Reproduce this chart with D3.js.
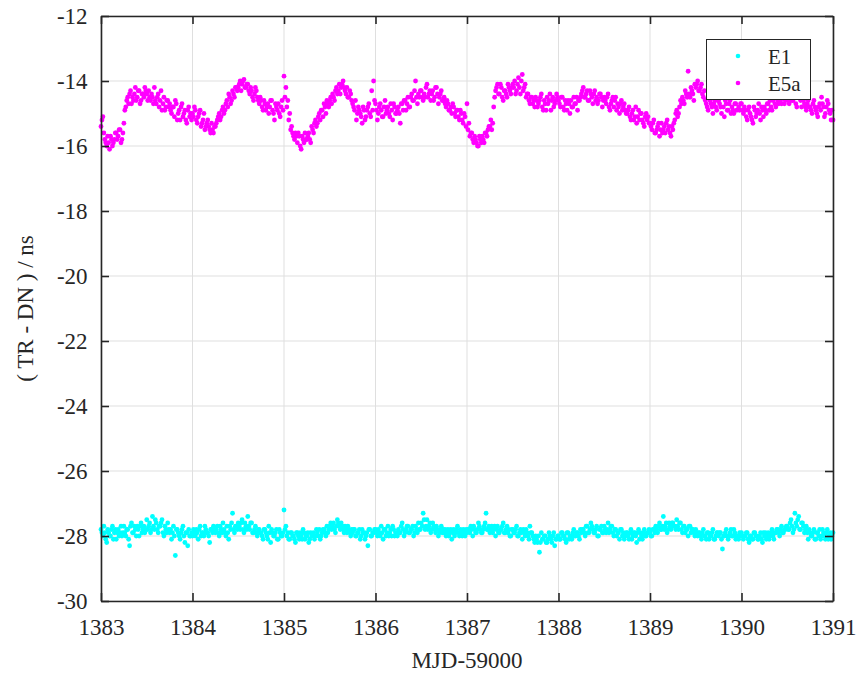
<!DOCTYPE html>
<html>
<head>
<meta charset="utf-8">
<script src="https://cdnjs.cloudflare.com/ajax/libs/d3/7.8.5/d3.min.js"></script>
</head>
<body style="margin:0; background:#fff">
<svg id="chart" width="859" height="674" font-family="Liberation Serif"></svg>
<script>
// MJD-59000, two interleaved sample sets every half hour (offset by 15 min)
const startDay = 1383;
const samplesPerDay = 48;

const xTicks = [1383, 1384, 1385, 1386, 1387, 1388, 1389, 1390, 1391];
const yTicks = [-30, -28, -26, -24, -22, -20, -18, -16, -14, -12];

const e5a = [
  -15.4, -15.1, -15.8, -16.0, -15.9, -15.7, -16.0, -15.8, -15.6, -15.7, -15.5, -15.8,
  -15.3, -14.8, -14.5, -14.4, -14.7, -14.6, -14.2, -14.5, -14.3, -14.6, -14.4, -14.2,
  -14.4, -14.3, -14.6, -14.5, -14.2, -14.7, -14.4, -14.6, -14.9, -14.5, -14.8, -14.6,
  -14.7, -15.0, -14.8, -14.6, -15.2, -14.9, -14.8, -15.1, -14.9, -15.3, -14.8, -15.0,
  -15.0, -14.8, -15.2, -15.1, -14.9, -15.3, -15.0, -15.4, -15.2, -15.5, -15.3, -15.6,
  -15.4, -15.2, -15.0, -15.1, -14.8, -14.9, -14.6, -14.4, -14.7, -14.3, -14.5, -14.2,
  -14.2, -14.0, -14.1, -13.95, -14.2, -14.1, -14.4, -14.3, -14.6, -14.2, -14.5, -14.7,
  -14.6, -14.9, -14.7, -14.8, -15.0, -14.6, -14.9, -15.2, -14.8, -14.7, -15.1, -14.6,
  -13.85, -14.2, -14.6, -15.0, -15.4, -15.7, -15.6, -15.9, -15.7, -16.1, -15.8, -15.6,
  -15.8, -15.6, -15.9, -15.5, -15.3, -15.4, -15.1, -15.2, -14.9, -14.7, -15.0, -14.7,
  -14.6, -14.7, -14.5, -14.3, -14.4, -14.1, -14.2, -14.0, -14.3, -14.2, -14.5, -14.4,
  -14.7, -14.9, -15.2, -14.8, -15.0, -15.3, -14.9, -15.1, -14.8, -15.0, -14.3, -14.0,
  -14.7, -15.2, -14.8, -14.9, -15.1, -14.6, -14.9, -15.0, -14.7, -15.2, -14.8, -15.0,
  -14.8, -15.3, -14.7, -14.6, -14.9, -14.5, -14.8, -14.4, -14.6, -14.0, -14.7, -14.5,
  -14.3, -14.6, -14.5, -14.1, -14.4, -14.6, -14.3, -14.5, -14.2, -14.7, -14.4, -14.6,
  -14.5, -14.8, -14.7, -14.9, -15.0, -14.8, -15.1, -14.9, -15.2, -15.0, -15.3, -15.1,
  -14.7, -15.3, -15.6, -15.8, -15.7, -15.9, -16.0, -15.8, -15.7, -15.9, -15.6, -15.5,
  -15.4, -15.5, -14.8, -14.3, -14.1, -14.4, -14.2, -14.6, -14.3, -14.5, -14.2, -14.4,
  -14.1, -14.0, -14.3, -13.9, -14.4, -13.8, -14.2, -14.5, -14.4, -14.7, -14.5, -14.6,
  -14.5, -14.8, -14.6, -14.4, -14.9, -14.7, -14.5, -14.6, -14.9, -14.5, -14.7, -14.4,
  -14.6, -14.8, -14.5, -14.9, -14.7, -14.6, -15.0, -14.8, -14.5, -14.7, -14.9, -14.6,
  -14.4, -14.2, -14.5, -14.3, -14.6, -14.4, -14.7, -14.3, -14.5, -14.6, -14.4, -14.8,
  -14.5, -14.7, -14.4, -14.9, -14.6, -14.8, -14.5, -14.7, -15.0, -14.6, -14.8, -14.9,
  -15.0, -14.8, -15.2, -14.9, -15.1, -15.3, -14.9, -15.0, -15.2, -15.4, -15.0, -15.1,
  -15.3, -15.5, -15.2, -15.6, -15.4, -15.7, -15.3, -15.5, -15.6, -15.2, -15.4, -15.7,
  -15.5, -15.2, -14.9, -15.0, -14.6, -14.5, -14.7, -14.4, -13.7, -14.5, -14.3, -14.6,
  -14.2, -14.0, -14.3, -14.1, -14.5, -14.6, -14.8, -14.5, -14.7, -15.0, -14.6, -14.9,
  -14.6, -14.8, -14.5, -15.1, -14.7, -14.9, -14.6, -14.8, -15.0, -14.7, -14.5, -14.9,
  -14.7, -15.0, -14.9, -15.2, -14.8, -15.1, -15.3, -14.9, -15.0, -14.7, -15.2, -14.9,
  -14.8, -15.0, -14.7, -14.6, -14.9, -14.5, -14.8, -14.6, -14.4, -14.7, -14.5, -14.6,
  -14.5, -14.7, -14.3, -14.6, -14.4, -14.8, -14.2, -14.6, -14.5, -14.7, -14.9, -14.6,
  -14.8, -15.0, -14.6, -14.9, -15.1, -14.7, -14.5, -14.8, -15.0, -14.6, -14.9, -15.2,
  -15.2
];

const e5aMid = [
  -15.2, -15.6, -15.9, -15.7, -16.1, -15.8, -15.9, -15.6, -15.8, -15.5, -15.9, -15.6,
  -14.9, -14.6, -14.7, -14.3, -14.5, -14.4, -14.6, -14.3, -14.7, -14.4, -14.5, -14.3,
  -14.6, -14.5, -14.4, -14.7, -14.6, -14.5, -14.8, -14.3, -14.7, -14.9, -14.6, -14.8,
  -14.9, -14.8, -15.1, -14.7, -15.0, -15.2, -14.7, -15.0, -15.2, -14.9, -15.1, -15.2,
  -15.1, -14.9, -15.3, -15.0, -15.4, -15.2, -15.5, -15.3, -15.4, -15.6, -15.5, -15.4,
  -15.3, -15.1, -15.2, -14.9, -15.0, -14.7, -14.8, -14.5, -14.6, -14.4, -14.2, -14.3,
  -14.1, -14.3, -14.0, -14.2, -14.1, -14.3, -14.2, -14.5, -14.4, -14.3, -14.6, -14.5,
  -14.8, -14.6, -14.9, -14.7, -14.8, -14.6, -15.0, -14.7, -14.9, -15.0, -14.8, -14.9,
  -14.5, -14.8, -15.2, -15.5, -15.6, -15.8, -15.7, -15.6, -16.0, -15.7, -15.9, -15.8,
  -15.7, -15.8, -15.4, -15.6, -15.2, -15.3, -15.0, -14.9, -15.1, -14.8, -14.6, -14.8,
  -14.5, -14.4, -14.6, -14.2, -14.3, -14.4, -14.1, -14.2, -14.4, -14.5, -14.3, -14.6,
  -14.8, -14.6, -15.0, -14.9, -15.1, -14.8, -15.2, -14.9, -14.7, -15.1, -14.9, -14.6,
  -14.9, -15.0, -14.7, -15.1, -14.8, -15.0, -14.8, -15.1, -14.9, -14.7, -15.0, -14.9,
  -15.0, -14.7, -14.9, -14.6, -14.7, -14.8, -14.5, -14.6, -14.3, -14.5, -14.4, -14.3,
  -14.5, -14.4, -14.2, -14.5, -14.3, -14.4, -14.6, -14.2, -14.4, -14.5, -14.3, -14.6,
  -14.7, -14.6, -14.9, -14.8, -14.7, -15.0, -14.9, -15.1, -14.9, -15.2, -15.0, -15.4,
  -15.5, -15.7, -15.6, -15.9, -15.8, -16.0, -15.7, -15.9, -15.8, -15.6, -15.7, -15.4,
  -15.2, -15.3, -14.5, -14.2, -14.4, -14.1, -14.5, -14.3, -14.4, -14.1, -14.3, -14.2,
  -14.2, -14.4, -14.1, -14.2, -14.0, -14.3, -14.1, -14.4, -14.6, -14.5, -14.7, -14.8,
  -14.6, -14.7, -14.5, -14.8, -14.6, -14.9, -14.7, -14.4, -14.6, -14.8, -14.6, -14.5,
  -14.7, -14.5, -14.8, -14.6, -14.9, -14.7, -14.6, -14.8, -14.7, -14.5, -14.6, -14.5,
  -14.3, -14.5, -14.4, -14.6, -14.3, -14.5, -14.4, -14.6, -14.7, -14.4, -14.5, -14.6,
  -14.6, -14.5, -14.8, -14.7, -14.5, -14.6, -14.9, -14.8, -14.7, -14.9, -14.7, -15.0,
  -14.9, -15.1, -15.0, -15.2, -14.8, -15.1, -15.2, -15.0, -15.3, -15.1, -15.2, -15.3,
  -15.4, -15.3, -15.6, -15.5, -15.3, -15.5, -15.6, -15.4, -15.3, -15.5, -15.6, -15.4,
  -15.3, -15.0, -15.1, -14.8, -14.7, -14.6, -14.3, -14.5, -14.4, -14.2, -14.4, -14.1,
  -14.1, -14.3, -14.2, -14.4, -14.3, -14.7, -14.9, -14.6, -14.8, -14.7, -14.8, -14.6,
  -14.7, -15.0, -14.8, -14.6, -14.9, -14.7, -15.0, -14.9, -14.7, -14.9, -14.8, -14.7,
  -14.9, -14.8, -15.1, -14.9, -15.0, -15.2, -14.8, -15.1, -14.9, -15.0, -14.8, -15.1,
  -14.9, -14.7, -14.9, -14.8, -14.6, -14.7, -14.5, -14.7, -14.6, -14.5, -14.7, -14.4,
  -14.6, -14.4, -14.6, -14.5, -14.7, -14.5, -14.4, -14.8, -14.6, -14.8, -14.7, -14.8,
  -14.9, -14.7, -14.8, -15.0, -14.8, -14.9, -14.7, -15.1, -14.8, -14.7, -15.0, -14.9
];

const e1 = [
  -27.8, -28.0, -27.9, -28.2, -27.9, -28.0, -27.7, -27.9, -28.1, -27.8, -27.9, -28.0,
  -27.7, -28.0, -27.8, -28.3, -27.6, -27.9, -27.8, -27.7, -28.0, -27.6, -27.8, -27.9,
  -27.5, -27.7, -27.9, -27.4, -27.8, -27.6, -27.9, -27.7, -27.5, -28.0, -27.8, -27.6,
  -27.9, -28.1, -27.7, -28.6, -27.8, -28.0, -27.9, -27.7, -28.2, -27.9, -27.8, -28.0,
  -28.0, -27.9, -27.8, -28.1, -27.7, -27.9, -28.0, -27.8, -27.9, -28.2, -27.8, -27.7,
  -27.9, -27.7, -28.0, -27.8, -27.6, -27.9, -27.7, -28.1, -27.8, -27.3, -27.9, -27.7,
  -27.6, -27.8, -27.5, -27.9, -27.7, -27.4, -27.8, -27.6, -27.9, -27.7, -28.0, -27.8,
  -27.9, -28.1, -27.8, -28.0, -27.7, -28.2, -27.9, -28.0, -27.8, -28.1, -27.9, -28.0,
  -27.2, -27.7, -27.9, -28.1, -27.9, -28.0, -28.2, -27.9, -28.1, -28.0, -27.8, -28.1,
  -28.0, -28.2, -27.9, -28.0, -28.1, -27.8, -28.0, -28.1, -27.9, -27.8, -28.0, -27.9,
  -27.7, -27.8, -27.6, -27.9, -27.5, -27.7, -27.6, -27.8, -27.7, -27.9, -27.8, -28.0,
  -27.9, -27.8, -28.0, -27.9, -28.1, -27.8, -27.9, -28.0, -28.3, -27.8, -28.0, -27.9,
  -27.8, -28.0, -27.9, -27.7, -28.1, -27.8, -27.9, -28.0, -27.8, -27.7, -28.0, -27.9,
  -27.8, -27.9, -27.6, -28.0, -27.8, -27.7, -27.9, -27.8, -28.0, -27.7, -27.9, -27.8,
  -27.6, -27.3, -27.8, -27.5, -27.7, -27.9, -27.6, -27.8, -27.7, -28.0, -27.8, -27.9,
  -27.9, -28.0, -27.8, -27.9, -28.1, -27.8, -27.9, -27.7, -28.0, -27.9, -27.8, -28.0,
  -27.9, -27.8, -27.7, -28.0, -27.8, -27.9, -27.6, -27.8, -27.9, -27.7, -27.3, -27.8,
  -27.9, -27.7, -27.8, -28.0, -27.7, -27.9, -27.8, -27.6, -27.9, -27.7, -27.8, -28.0,
  -27.8, -27.9, -27.7, -28.0, -27.8, -28.1, -27.9, -27.8, -28.0, -27.7, -27.9, -28.1,
  -28.0, -28.2, -28.5, -27.9, -28.1, -28.0, -28.2, -27.9, -28.1, -28.0, -28.3, -28.1,
  -28.0, -28.1, -27.9, -28.0, -28.2, -27.9, -28.0, -28.1, -27.8, -28.0, -27.9, -28.1,
  -27.9, -27.8, -28.0, -27.7, -27.9, -27.6, -27.8, -27.9, -27.7, -28.0, -27.8, -27.9,
  -27.7, -27.9, -27.6, -27.8, -27.7, -28.0, -27.8, -27.9, -28.1, -27.8, -27.9, -28.0,
  -27.9, -28.1, -27.8, -28.0, -27.9, -28.2, -27.8, -27.9, -28.1, -27.8, -28.0, -27.9,
  -27.9, -28.0, -27.8, -27.7, -27.9, -27.6, -27.8, -27.4, -27.7, -27.9, -27.6, -27.8,
  -27.6, -27.7, -27.5, -27.8, -27.6, -27.9, -27.7, -27.8, -28.0, -27.7, -27.8, -27.9,
  -27.8, -28.0, -27.9, -28.1, -27.8, -28.0, -27.9, -28.1, -28.0, -27.8, -28.1, -27.9,
  -28.0, -27.9, -28.4, -28.0, -27.8, -28.1, -27.9, -28.0, -27.8, -28.1, -28.0, -27.9,
  -27.9, -28.1, -28.0, -27.9, -28.2, -28.0, -28.1, -27.9, -28.0, -28.1, -27.9, -28.2,
  -28.0, -28.1, -27.9, -28.0, -27.8, -28.1, -27.9, -27.8, -28.0, -27.7, -27.9, -27.8,
  -27.7, -27.8, -27.5, -27.9, -27.3, -27.7, -27.4, -27.8, -27.6, -27.9, -27.7, -28.1,
  -27.9, -28.0, -27.8, -28.1, -27.9, -27.8, -28.0, -27.9, -28.1, -27.8, -28.0, -28.1,
  -27.9
];

const e1Mid = [
  -27.9, -27.7, -28.1, -27.8, -28.0, -27.8, -28.1, -27.8, -27.9, -28.0, -27.7, -27.9,
  -27.9, -27.8, -28.1, -27.7, -27.9, -27.7, -28.0, -27.8, -27.7, -27.9, -27.7, -27.8,
  -27.8, -27.6, -27.8, -27.7, -27.5, -27.8, -27.7, -27.6, -27.9, -27.7, -27.9, -27.8,
  -27.8, -27.9, -28.0, -27.8, -27.9, -28.1, -27.8, -28.0, -27.9, -28.3, -28.0, -27.9,
  -27.8, -28.0, -27.9, -27.8, -28.0, -27.9, -27.7, -27.9, -28.0, -27.8, -27.9, -27.8,
  -27.8, -27.9, -27.7, -27.9, -27.8, -28.0, -27.9, -27.7, -27.6, -27.8, -27.7, -27.8,
  -27.7, -27.6, -27.8, -27.6, -27.8, -27.7, -27.6, -27.9, -27.8, -27.9, -27.8, -27.9,
  -28.0, -27.8, -27.9, -28.1, -27.9, -27.8, -28.0, -27.9, -28.1, -27.8, -28.0, -27.9,
  -27.8, -28.0, -28.1, -27.9, -28.0, -28.1, -27.9, -28.0, -27.9, -28.1, -27.9, -28.0,
  -27.9, -28.1, -28.0, -27.9, -28.0, -27.9, -27.8, -28.0, -27.8, -27.9, -27.7, -27.8,
  -27.6, -27.7, -27.8, -27.7, -27.6, -27.8, -27.7, -27.9, -27.8, -27.7, -27.9, -27.8,
  -27.8, -28.0, -27.9, -27.8, -28.0, -27.9, -28.1, -27.9, -27.8, -28.0, -27.9, -27.8,
  -27.9, -27.8, -28.0, -27.9, -27.8, -28.0, -27.7, -27.9, -28.0, -27.8, -27.9, -28.0,
  -27.9, -27.7, -27.8, -27.9, -27.7, -27.9, -27.8, -27.7, -27.9, -27.8, -27.6, -27.8,
  -27.7, -27.5, -27.7, -27.8, -27.6, -27.8, -27.7, -27.9, -27.8, -27.9, -27.7, -27.8,
  -27.8, -27.9, -28.0, -27.8, -27.9, -28.0, -27.8, -27.9, -27.8, -28.0, -27.9, -27.8,
  -27.8, -27.9, -27.8, -27.7, -27.9, -27.8, -27.7, -27.9, -27.8, -27.6, -27.8, -27.7,
  -27.8, -27.9, -27.7, -27.8, -27.9, -27.8, -27.7, -27.9, -27.8, -27.9, -28.0, -27.8,
  -27.9, -27.8, -28.0, -27.9, -27.9, -27.8, -28.0, -27.9, -28.1, -27.9, -28.0, -28.2,
  -28.1, -28.0, -28.2, -28.1, -28.0, -28.2, -28.1, -28.0, -28.2, -27.9, -28.1, -28.0,
  -28.1, -27.9, -28.0, -28.1, -27.9, -28.1, -28.0, -27.9, -28.0, -27.9, -28.0, -27.8,
  -27.8, -27.9, -27.7, -27.9, -27.8, -27.7, -27.9, -27.8, -28.0, -27.8, -27.7, -27.9,
  -27.8, -27.8, -27.9, -27.7, -27.9, -27.8, -28.0, -27.9, -27.8, -28.0, -28.1, -27.9,
  -28.0, -27.9, -28.1, -27.9, -28.0, -27.9, -28.1, -28.0, -27.9, -28.0, -27.9, -27.8,
  -28.0, -27.8, -27.9, -27.8, -27.7, -27.8, -27.7, -27.8, -27.6, -27.8, -27.7, -27.6,
  -27.7, -27.8, -27.7, -27.6, -27.8, -27.7, -27.9, -27.8, -27.7, -27.9, -27.8, -28.0,
  -27.9, -27.9, -28.0, -27.9, -28.0, -28.1, -27.9, -28.0, -27.9, -28.1, -28.0, -27.9,
  -27.9, -28.1, -28.0, -27.9, -28.0, -28.0, -27.8, -28.0, -27.9, -28.0, -28.1, -28.0,
  -28.0, -28.0, -27.9, -28.1, -28.0, -28.1, -27.9, -28.0, -28.1, -28.0, -28.1, -27.9,
  -27.9, -28.0, -28.1, -27.9, -28.0, -27.9, -27.8, -27.9, -27.8, -27.9, -27.8, -27.7,
  -27.8, -27.6, -27.7, -27.8, -27.6, -27.5, -27.8, -27.6, -27.7, -27.8, -27.9, -27.8,
  -28.0, -27.9, -28.1, -27.9, -28.0, -28.1, -27.8, -28.0, -27.9, -28.1, -27.9, -28.0
];

const seriesNames = ["E1", "E5a"];
const seriesColors = ["#00ffff", "#ff00ff"];

const margin = { left: 101, top: 16, right: 26, bottom: 73 };
const width = 859;
const height = 674;
const serif = "Liberation Serif";
const axisColor = "#262626";

const svg = d3.select("#chart");

const x = d3.scaleLinear()
  .domain([1383, 1391])
  .range([margin.left, width - margin.right]);

const y = d3.scaleLinear()
  .domain([-30, -12])
  .range([height - margin.bottom, margin.top]);

// grid
svg.append("g").selectAll("line")
  .data(xTicks)
  .enter().append("line")
  .attr("x1", d => x(d)).attr("x2", d => x(d))
  .attr("y1", y(-30)).attr("y2", y(-12))
  .attr("stroke", "#dfdfdf").attr("stroke-width", 1);

svg.append("g").selectAll("line")
  .data(yTicks)
  .enter().append("line")
  .attr("x1", x(1383)).attr("x2", x(1391))
  .attr("y1", d => y(d)).attr("y2", d => y(d))
  .attr("stroke", "#dfdfdf").attr("stroke-width", 1);

// points
const toPoints = (vals, offset) => vals.map((v, i) => ({ t: startDay + (i + offset) / samplesPerDay, v: v }));

const series = [
  { color: seriesColors[0], pts: toPoints(e1, 0).concat(toPoints(e1Mid, 0.5)) },
  { color: seriesColors[1], pts: toPoints(e5a, 0).concat(toPoints(e5aMid, 0.5)) }
];

series.forEach(s => {
  svg.append("g").selectAll("circle")
    .data(s.pts)
    .enter().append("circle")
    .attr("cx", d => x(d.t))
    .attr("cy", d => y(d.v))
    .attr("r", 2.4)
    .attr("fill", s.color);
});

// axes (ticks inward, box on all sides)
const tickLen = 8;
const fmt = d => String(d);
const axBottom = svg.append("g")
  .attr("transform", `translate(0,${y(-30)})`)
  .call(d3.axisBottom(x).tickValues(xTicks).tickFormat(fmt).tickSizeInner(-tickLen).tickSizeOuter(0).tickPadding(18));
const axTop = svg.append("g")
  .attr("transform", `translate(0,${y(-12)})`)
  .call(d3.axisTop(x).tickValues(xTicks).tickFormat("").tickSizeInner(-tickLen).tickSizeOuter(0));
const axLeft = svg.append("g")
  .attr("transform", `translate(${x(1383)},0)`)
  .call(d3.axisLeft(y).tickValues(yTicks).tickFormat(fmt).tickSizeInner(-tickLen).tickSizeOuter(0).tickPadding(18));
const axRight = svg.append("g")
  .attr("transform", `translate(${x(1391)},0)`)
  .call(d3.axisRight(y).tickValues(yTicks).tickFormat("").tickSizeInner(-tickLen).tickSizeOuter(0));

[axBottom, axTop, axLeft, axRight].forEach(g => {
  g.attr("font-family", serif).attr("font-size", 23);
  g.select(".domain").attr("stroke", axisColor).attr("stroke-width", 1.6);
  g.selectAll(".tick line").attr("stroke", axisColor).attr("stroke-width", 1.6);
  g.selectAll(".tick text").attr("fill", axisColor);
});
axLeft.selectAll(".tick text").attr("dx", "0.2em");

// axis titles
svg.append("text")
  .attr("x", (x(1383) + x(1391)) / 2)
  .attr("y", 668)
  .attr("text-anchor", "middle")
  .attr("font-family", serif)
  .attr("font-size", 23)
  .attr("fill", axisColor)
  .text("MJD-59000");

svg.append("text")
  .attr("transform", `translate(33,${(y(-30) + y(-12)) / 2}) rotate(-90)`)
  .attr("text-anchor", "middle")
  .attr("font-family", serif)
  .attr("font-size", 23)
  .attr("fill", axisColor)
  .text("( TR - DN ) / ns");

// legend
const legend = svg.append("g");
legend.append("rect")
  .attr("x", 706.5).attr("y", 39.5)
  .attr("width", 104).attr("height", 60)
  .attr("fill", "#fff")
  .attr("stroke", "#262626").attr("stroke-width", 1);

legend.selectAll("circle")
  .data(seriesNames)
  .enter().append("circle")
  .attr("cx", 738)
  .attr("cy", (d, i) => 56 + i * 27)
  .attr("r", 2.3)
  .attr("fill", (d, i) => seriesColors[i]);

legend.selectAll("text")
  .data(seriesNames)
  .enter().append("text")
  .attr("x", 768)
  .attr("y", (d, i) => 63.5 + i * 27)
  .attr("font-family", serif)
  .attr("font-size", 21)
  .attr("fill", axisColor)
  .text(d => d);
</script>
</body>
</html>
